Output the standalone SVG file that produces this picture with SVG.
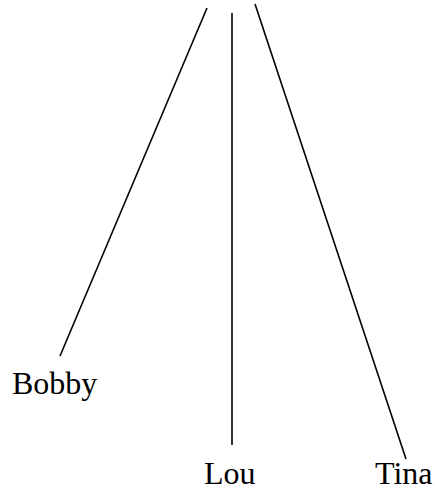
<svg xmlns="http://www.w3.org/2000/svg" width="435" height="490" viewBox="0 0 435 490">
<style>
.c{stroke:#000;stroke-width:1.6;fill:none}
.t{font-family:"Liberation Serif","Times New Roman",serif;font-size:32px;fill:#000}
</style>
<rect width="435" height="490" fill="#fff"/>
<g id="connectors">
<line class="c" x1="207" y1="8" x2="60" y2="356"/>
<line class="c" x1="232" y1="13" x2="232" y2="445"/>
<line class="c" x1="255" y1="4" x2="406" y2="459"/>
</g>
<g id="bobby"><text class="t" x="12" y="394">Bobby</text></g>
<g id="lou"><text class="t" x="204" y="484">Lou</text></g>
<g id="tina"><text class="t" x="375" y="484">Tina</text></g>
</svg>
